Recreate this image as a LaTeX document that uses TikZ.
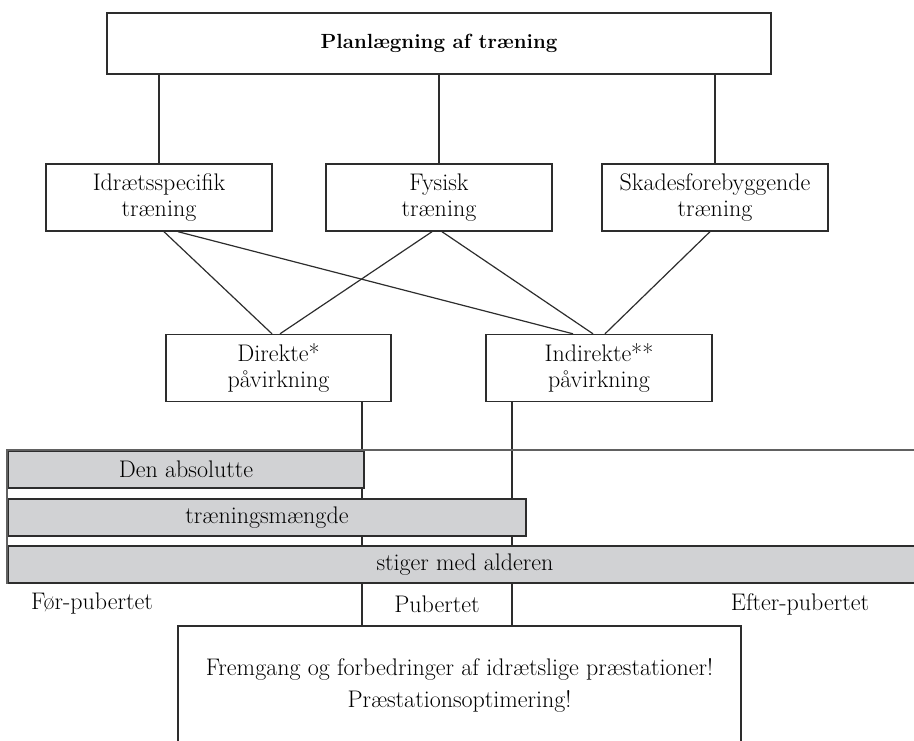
\documentclass[tikz,border=0pt]{standalone}
\usepackage{xcolor}
\usepackage{tikz}
\usetikzlibrary{positioning}

\definecolor{barfill}{RGB}{209,210,212}
\definecolor{edgegray}{RGB}{45,45,45}

\begin{document}
\begin{tikzpicture}[
    x=1pt, y=-1pt,
    font=\fontsize{24}{26}\selectfont,
    box/.style={rectangle, draw=edgegray, line width=1.4pt, minimum width=226pt, minimum height=67pt, align=center, inner sep=0pt},
    bar/.style={rectangle, draw=edgegray, fill=barfill, line width=1.8pt, minimum height=37pt, inner sep=0pt},
    link/.style={draw=edgegray, line width=1.2pt},
    phase/.style={inner sep=0pt}
]
\clip (0,0) rectangle (914,740);

\node[box, minimum width=664pt, minimum height=61pt, font=\fontsize{20.5}{26}\selectfont\bfseries] (plan) at (439,43.5) {Planlægning af træning};
\node[box] (idr) at (159,197.5) {Idrætsspecifik\\træning};
\node[box] (fys) at (439,197.5) {Fysisk\\træning};
\node[box] (skade) at (715,197.5) {Skadesforebyggende\\træning};
\node[box, minimum width=225pt] (dir) at (278.5,368) {Direkte*\\påvirkning};
\node[box] (indir) at (599,368) {Indirekte**\\påvirkning};
\node[box, minimum width=563pt, minimum height=118pt, font=\fontsize{24}{32}\selectfont] (result) at (459.5,685) {Fremgang og forbedringer af idrætslige præstationer!\\Præstationsoptimering!};

\draw[link] (idr.north |- plan.south) -- (idr.north);
\draw[link] (fys.north |- plan.south) -- (fys.north);
\draw[link] (skade.north |- plan.south) -- (skade.north);

\draw[link] ([xshift=5pt]idr.south) -- ([xshift=-6.5pt]dir.north);
\draw[link] ([xshift=19pt]idr.south) -- ([xshift=-26pt]indir.north);
\draw[link] ([xshift=-7pt]fys.south) -- ([xshift=1.5pt]dir.north);
\draw[link] ([xshift=3pt]fys.south) -- ([xshift=-6pt]indir.north);
\draw[link] ([xshift=-5pt]skade.south) -- ([xshift=6pt]indir.north);

\draw[link] ([xshift=83.5pt]dir.south) -- ([xshift=83.5pt]dir.south |- result.north);
\draw[link] ([xshift=-87pt]indir.south) -- ([xshift=-87pt]indir.south |- result.north);

% age bars
\node[bar, minimum width=356pt] (bar1) at (186,469.5) {Den absolutte};
\node[bar, minimum width=518pt] (bar2) at (267,517.5) {træningsmængde};
\node[bar, minimum width=914pt] (bar3) at (465,564.5) {stiger med alderen};

\coordinate (edge) at (914,451);
\draw[draw=edgegray!75, line width=1.8pt] (bar3.south west) -- (bar1.north west) -- (bar1.north west -| edge);

\node[phase] (pre) at (92,604) {Før-pubertet};
\node[phase] (pub) at (437,604) {Pubertet};
\node[phase] (post) at (800,604) {Efter-pubertet};
\end{tikzpicture}
\end{document}
